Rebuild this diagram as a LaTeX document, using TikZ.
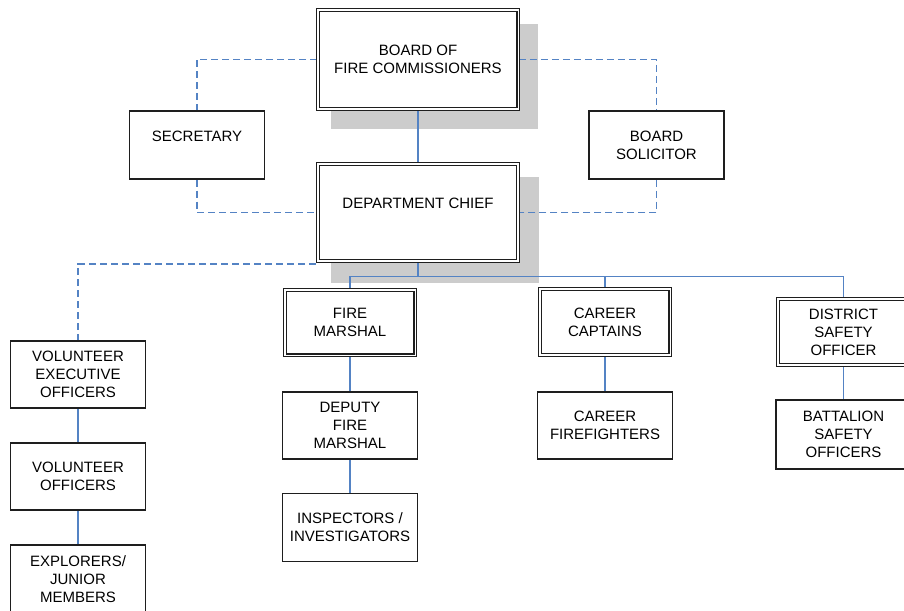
\documentclass[tikz,border=0pt]{standalone}
\usepackage{fontspec}
\setmainfont{Liberation Sans}
\usetikzlibrary{backgrounds}
\pgfdeclarelayer{shadowlayer}
\pgfsetlayers{shadowlayer,background,main}
\definecolor{linkblue}{RGB}{84,131,196}
\definecolor{shadowgray}{RGB}{204,204,204}
\definecolor{boxline}{RGB}{30,30,30}
\begin{document}
\begin{tikzpicture}[x=1pt,y=-1pt,
  every node/.style={font=\fontsize{15}{18}\selectfont, text=black, align=center, inner sep=0pt},
  plainbox/.style={draw=boxline, line width=1.2pt, fill=white, minimum width=135pt, minimum height=67pt},
  dblbox/.style={draw=boxline, double=white, double distance=1.8pt, line width=1.1pt, fill=white, minimum width=130.8pt, minimum height=65.8pt},
  solidlink/.style={draw=linkblue, line width=1.3pt},
  dashlink/.style={draw=linkblue, line width=1.4pt, dash pattern=on 7pt off 4pt}]
\useasboundingbox (0,0) rectangle (904,610);

\node[dblbox, minimum width=200.8pt, minimum height=98.8pt] (board) at (418,59.5) {BOARD OF\\FIRE COMMISSIONERS};
\node[dblbox, minimum width=199.8pt, minimum height=96.8pt] (chief) at (418,212.5) {DEPARTMENT CHIEF\\\mbox{}};
\node[plainbox, minimum height=68pt] (sec) at (197,145) {SECRETARY\\\mbox{}};
\node[plainbox, minimum height=68pt] (sol) at (656.5,145) {BOARD\\SOLICITOR};
\node[dblbox] (fm) at (350,322.5) {FIRE\\MARSHAL};
\node[dblbox] (cc) at (605,322) {CAREER\\CAPTAINS};
\node[dblbox] (dso) at (843.5,332) {DISTRICT\\SAFETY\\OFFICER};
\node[plainbox] (dep) at (350,425.5) {DEPUTY\\FIRE\\MARSHAL};
\node[plainbox, minimum height=68pt] (insp) at (350,527.5) {INSPECTORS /\\INVESTIGATORS};
\node[plainbox] (cff) at (605,425.5) {CAREER\\FIREFIGHTERS};
\node[plainbox, minimum height=69pt] (bat) at (843.5,434.5) {BATTALION\\SAFETY\\OFFICERS};
\node[plainbox] (vexec) at (78,374.5) {VOLUNTEER\\EXECUTIVE\\OFFICERS};
\node[plainbox] (voff) at (78,476.5) {VOLUNTEER\\OFFICERS};
\node[plainbox, minimum height=68pt] (expl) at (78,579) {EXPLORERS/\\JUNIOR\\MEMBERS};

\begin{pgfonlayer}{shadowlayer}
  \fill[shadowgray] ([shift={(13.9,14.9)}]board.north west) rectangle ([shift={(19.1,19.1)}]board.south east);
  \fill[shadowgray] ([shift={(13.9,13.9)}]chief.north west) rectangle ([shift={(20.1,21.1)}]chief.south east);
\end{pgfonlayer}

\begin{pgfonlayer}{background}
  \draw[solidlink] (board.south) -- (chief.north);
  \draw[dashlink] (board.west) -| (sec.north);
  \draw[dashlink] (sec.south) |- (chief.west);
  \draw[dashlink] (board.east) -| (sol.north);
  \draw[dashlink] (sol.south) |- (chief.east);
  \draw[dashlink] ([shift={(-2,2.5)}]chief.south west) -| (vexec.north);
  \draw[solidlink] (chief.south) -- ++(0,15) coordinate (bus);
  \draw[solidlink] (fm.north) |- (bus) -| (dso.north);
  \draw[solidlink] (cc.north) -- (cc.north |- bus);
  \draw[solidlink] (fm.south) -- (dep.north);
  \draw[solidlink] (dep.south) -- (insp.north);
  \draw[solidlink] (cc.south) -- (cff.north);
  \draw[solidlink] (dso.south) -- (bat.north);
  \draw[solidlink] (vexec.south) -- (voff.north);
  \draw[solidlink] (voff.south) -- (expl.north);
\end{pgfonlayer}
\end{tikzpicture}
\end{document}
